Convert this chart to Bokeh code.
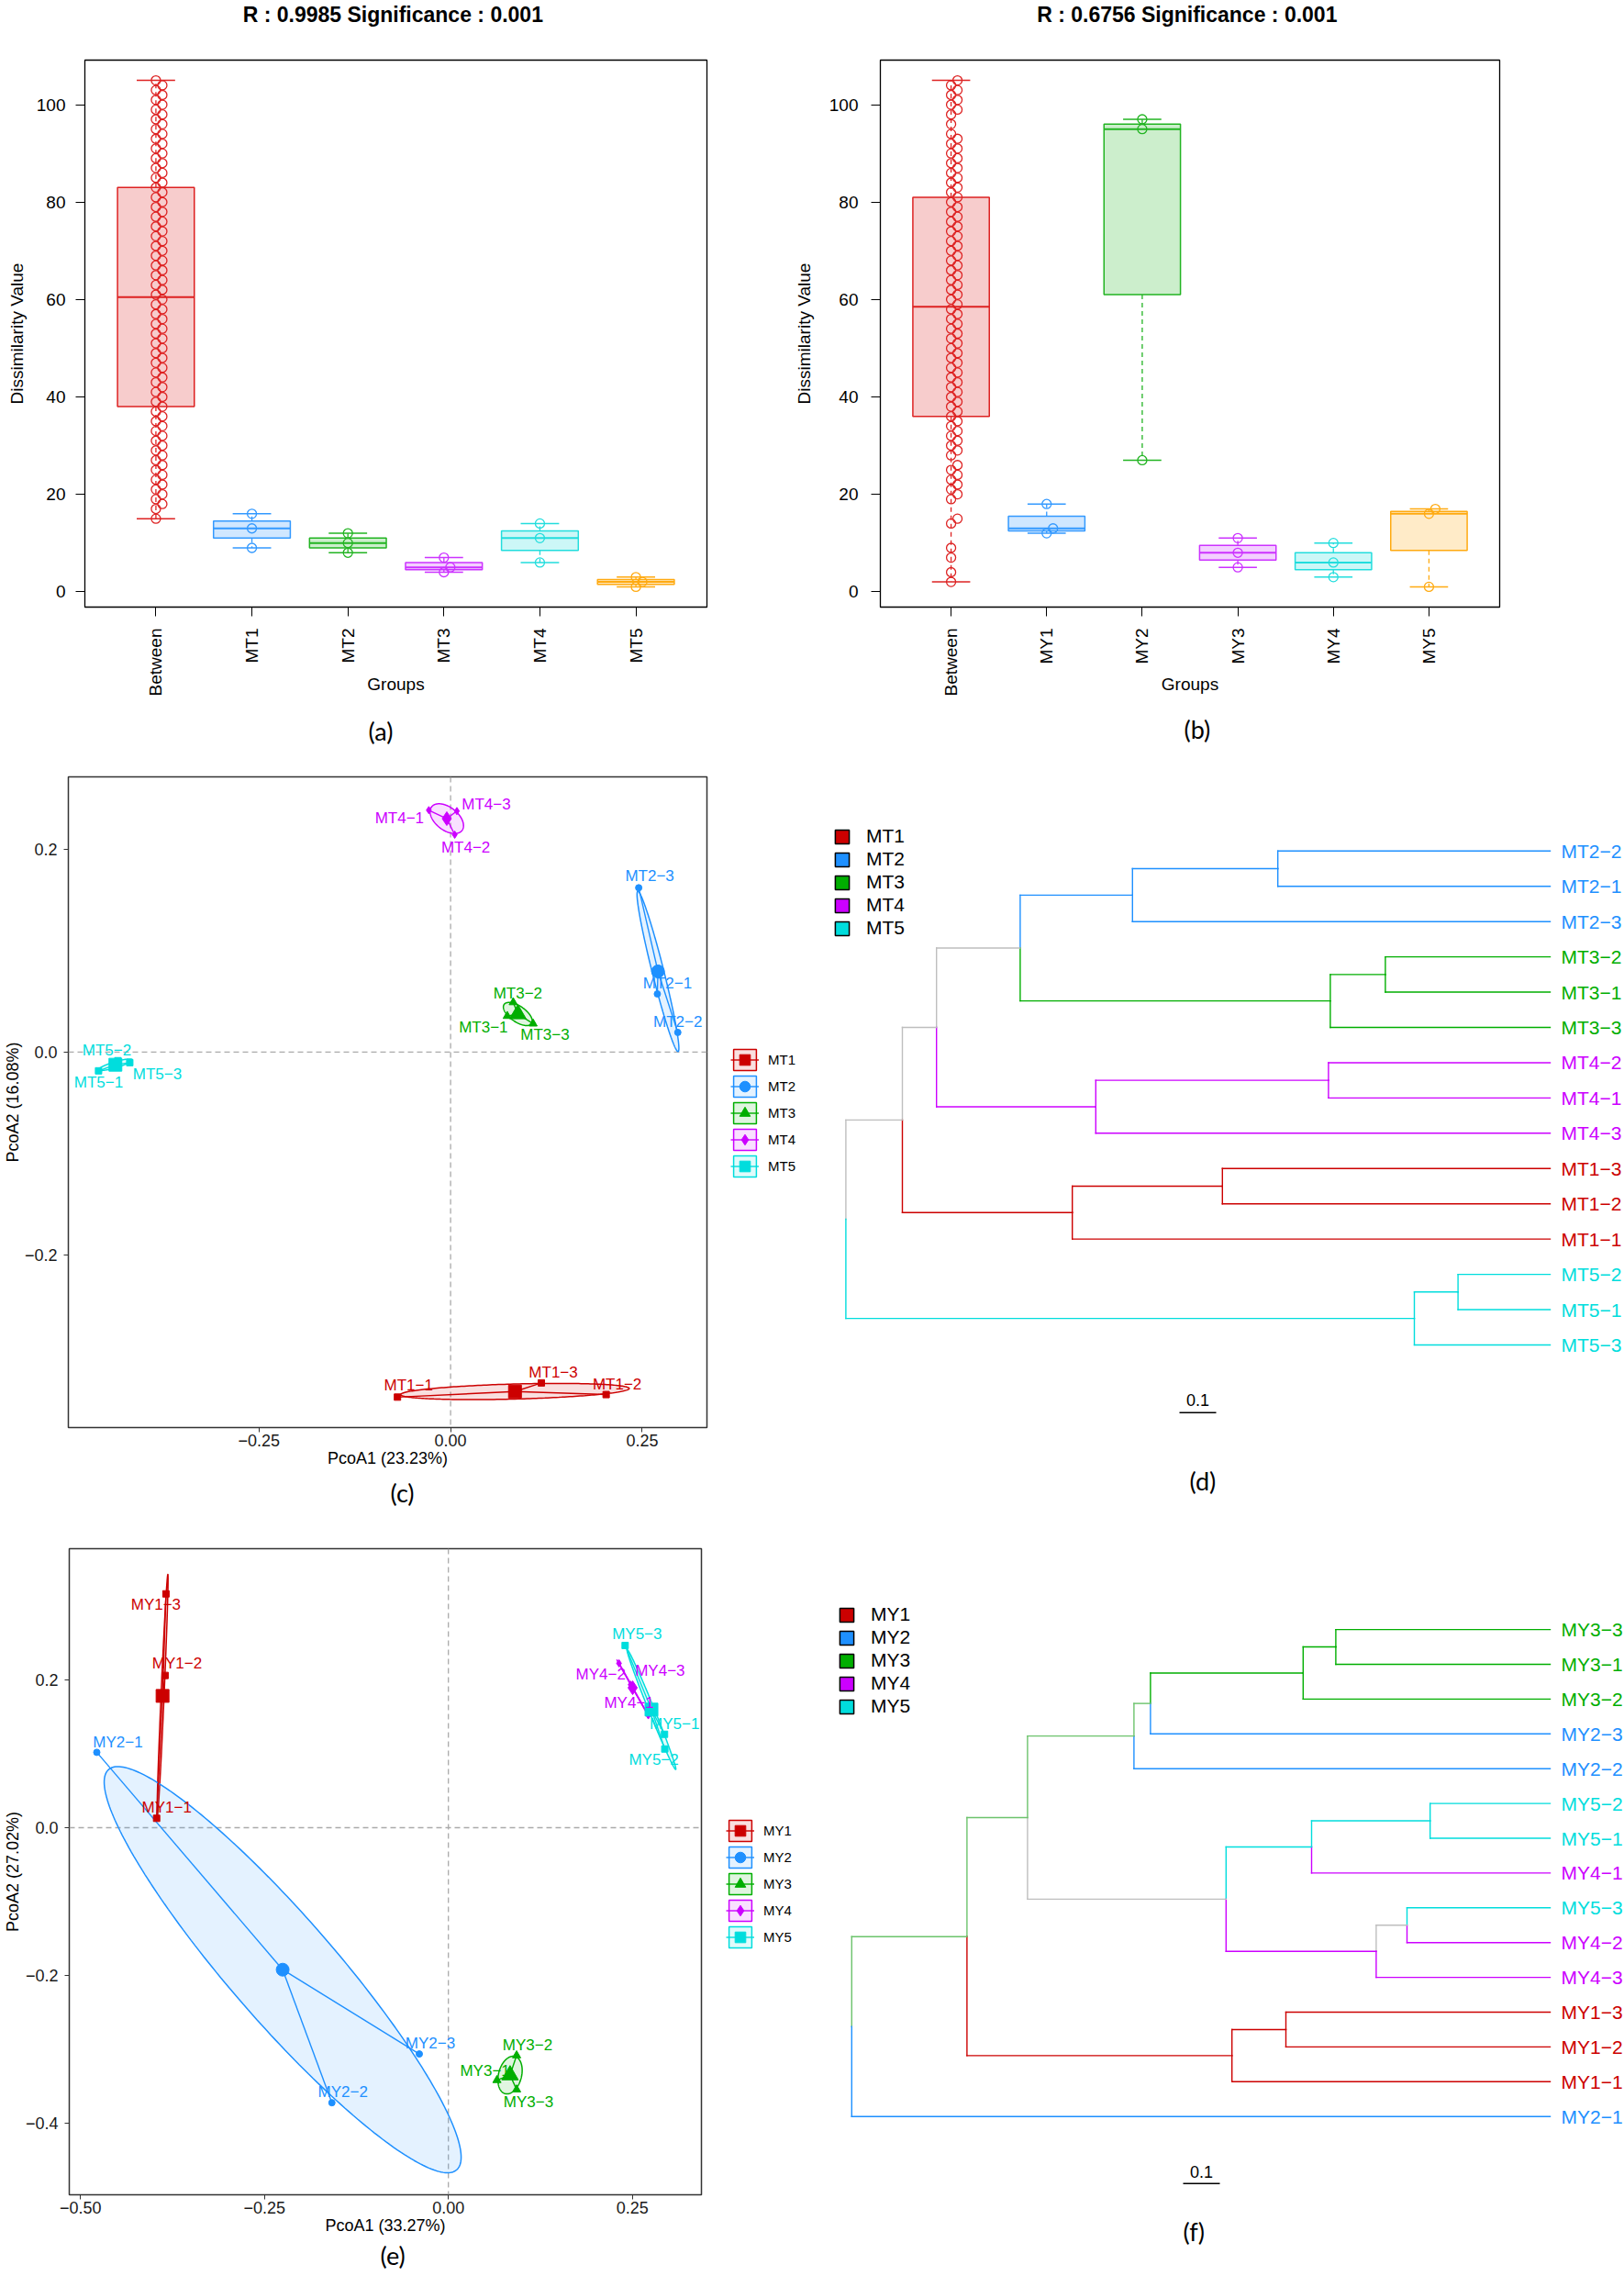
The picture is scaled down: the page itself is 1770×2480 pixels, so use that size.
import numpy as np
from bokeh.plotting import figure
from bokeh.models import (Range1d, FixedTicker, Span, Legend, LegendItem, Title,
                          CustomJSTickFormatter, ColumnDataSource)
from bokeh.layouts import row, column
from bokeh.embed import file_html
from bokeh.resources import INLINE
from bokeh.core.properties import value

FONT = "Liberation Sans"
CAPFONT = "Lato"
CAPSIZE = 27

# ---------------- Panel (a): ANOSIM ranks, MT ----------------
a_title = "R : 0.9985  Significance : 0.001"
a_groups = ["Between", "MT1", "MT2", "MT3", "MT4", "MT5"]
a_between = [15, 17, 18, 19, 20, 21, 22, 23, 24, 25, 26, 27, 28, 29, 30, 31, 32, 33, 34, 35,
             36, 37, 38, 39, 40, 41, 42, 43, 44, 45, 46, 47, 48, 49, 50, 51, 52, 53, 54, 55,
             56, 57, 58, 59, 60, 61, 62, 63, 64, 65, 66, 67, 68, 69, 70, 71, 72, 73, 74, 75,
             76, 77, 78, 79, 80, 81, 82, 83, 84, 85, 86, 87, 88, 89, 90, 91, 92, 93, 94, 95,
             96, 97, 98, 99, 100, 101, 102, 103, 104, 105]
a_mt1 = [9, 13, 16]
a_mt2 = [8, 10, 12]
a_mt3 = [4, 5, 7]
a_mt4 = [6, 11, 14]
a_mt5 = [1, 2, 3]

# ---------------- Panel (b): ANOSIM ranks, MY ----------------
b_title = "R : 0.6756  Significance : 0.001"
b_groups = ["Between", "MY1", "MY2", "MY3", "MY4", "MY5"]
b_between = [2, 4, 7, 9, 14, 15, 19, 20, 21, 22, 23, 24, 25, 26, 28, 29, 30, 31, 32, 33,
             34, 35, 36, 37, 38, 39, 40, 41, 42, 43, 44, 45, 46, 47, 48, 49, 50, 51, 52, 53,
             54, 55, 56, 57, 58, 59, 60, 61, 62, 63, 64, 65, 66, 67, 68, 69, 70, 71, 72, 73,
             74, 75, 76, 77, 78, 79, 80, 81, 82, 83, 84, 85, 86, 87, 88, 89, 90, 91, 92, 93,
             94, 96, 98, 99, 100, 101, 102, 103, 104, 105]
b_my1 = [12, 13, 18]
b_my2 = [27, 95, 97]
b_my3 = [5, 8, 11]
b_my4 = [3, 6, 10]
b_my5 = [1, 16, 17]

box_colors = ["#DD2222", "#3399FF", "#22B422", "#CC33FF", "#22DDDD", "#FFAA11"]

# ---------------- Panel (c): PCoA MT ----------------
c_groups = ["MT1", "MT2", "MT3", "MT4", "MT5"]
c_samples = [["MT1-1", "MT1-2", "MT1-3"], ["MT2-1", "MT2-2", "MT2-3"], ["MT3-1", "MT3-2", "MT3-3"],
             ["MT4-1", "MT4-2", "MT4-3"], ["MT5-1", "MT5-2", "MT5-3"]]
c_pc1 = [[-0.0693, 0.2029, 0.1184], [0.2697, 0.2964, 0.2454], [0.0739, 0.0817, 0.1076],
         [-0.0284, 0.0054, 0.0082], [-0.4592, -0.4340, -0.4185]]
c_pc2 = [[-0.3400, -0.3375, -0.3260], [0.0573, 0.0194, 0.1619], [0.0355, 0.0490, 0.0280],
         [0.2384, 0.2142, 0.2375], [-0.0185, -0.0085, -0.0104]]
c_xlab = "PcoA1 (23.23%)"
c_ylab = "PcoA2 (16.08%)"

# ---------------- Panel (e): PCoA MY ----------------
e_groups = ["MY1", "MY2", "MY3", "MY4", "MY5"]
e_samples = [["MY1-1", "MY1-2", "MY1-3"], ["MY2-1", "MY2-2", "MY2-3"], ["MY3-1", "MY3-2", "MY3-3"],
             ["MY4-1", "MY4-2", "MY4-3"], ["MY5-1", "MY5-2", "MY5-3"]]
e_pc1 = [[-0.3965, -0.3850, -0.3838], [-0.4778, -0.1583, -0.0395], [0.0660, 0.0927, 0.0927],
         [0.2717, 0.2319, 0.2477], [0.2937, 0.2941, 0.2402]]
e_pc2 = [[0.0127, 0.2062, 0.3167], [0.1021, -0.3725, -0.3065], [-0.3420, -0.3085, -0.3547],
         [0.1522, 0.2226, 0.1937], [0.1265, 0.1066, 0.2468]]
e_xlab = "PcoA1 (33.27%)"
e_ylab = "PcoA2 (27.02%)"

grp_colors = ["#CC0000", "#1E90FF", "#00AE00", "#CC00FF", "#00DDDD"]
grp_markers = ["square", "circle", "triangle", "diamond", "square"]

# ---------------- Panel (d): cluster tree MT ----------------
d_leaves = ["MT2-2", "MT2-1", "MT2-3", "MT3-2", "MT3-1", "MT3-3", "MT4-2", "MT4-1", "MT4-3",
            "MT1-3", "MT1-2", "MT1-1", "MT5-2", "MT5-1", "MT5-3"]
d_merges = [("n1", "MT2-2", "MT2-1", 0.742), ("n2", "n1", "MT2-3", 1.138),
            ("n3", "MT3-2", "MT3-1", 0.449), ("n4", "n3", "MT3-3", 0.599),
            ("n5", "n2", "n4", 1.444), ("n6", "MT4-2", "MT4-1", 0.604),
            ("n7", "n6", "MT4-3", 1.238), ("n8", "n5", "n7", 1.672),
            ("n9", "MT1-3", "MT1-2", 0.893), ("n10", "n9", "MT1-1", 1.302),
            ("n11", "n8", "n10", 1.765), ("n12", "MT5-2", "MT5-1", 0.251),
            ("n13", "n12", "MT5-3", 0.370), ("root", "n11", "n13", 1.919)]

# ---------------- Panel (f): cluster tree MY ----------------
f_leaves = ["MY3-3", "MY3-1", "MY3-2", "MY2-3", "MY2-2", "MY5-2", "MY5-1", "MY4-1", "MY5-3",
            "MY4-2", "MY4-3", "MY1-3", "MY1-2", "MY1-1", "MY2-1"]
f_merges = [("m1", "MY3-3", "MY3-1", 0.584), ("m2", "m1", "MY3-2", 0.673),
            ("E", "m2", "MY2-3", 1.089), ("C", "E", "MY2-2", 1.134),
            ("m5", "MY5-2", "MY5-1", 0.327), ("F", "m5", "MY4-1", 0.650),
            ("H", "MY5-3", "MY4-2", 0.390), ("G", "H", "MY4-3", 0.474),
            ("D", "F", "G", 0.883), ("B", "C", "D", 1.424),
            ("m9", "MY1-3", "MY1-2", 0.720), ("m10", "m9", "MY1-1", 0.867),
            ("A", "B", "m10", 1.589), ("root", "A", "MY2-1", 1.903)]

GRAY = "#BEBEBE"
PALEGREEN = "#6CC36C"
MINUS = "\u2212"


def add_title(p, text, side, standoff, size, font=CAPFONT, bold=False, align="center", offset=0):
    p.add_layout(Title(text=text, align=align, offset=offset, standoff=standoff,
                       text_font=font, text_font_size=f"{size}px",
                       text_font_style="bold" if bold else "normal", text_color="black"), side)


def fivenum(v):
    x = np.sort(np.asarray(v, float))
    n = len(x)
    n4 = np.floor((n + 3) / 2) / 2
    d = np.array([1, n4, (n + 1) / 2, n + 1 - n4, n]) - 1
    return 0.5 * (x[np.floor(d).astype(int)] + x[np.ceil(d).astype(int)])


def stack_offsets(vals, step):
    v = sorted(vals)
    offs, prev, prev_off = [], None, 0.0
    for x in v:
        o = step if (prev is not None and x - prev == 1 and prev_off == 0) else 0.0
        offs.append(o)
        prev, prev_off = x, o
    return v, offs


def box_panel(title, groups, series, fig_w, fig_h, bl, br, bt, bb, ylab_standoff, ystand,
              cap, cap_offset, cap_standoff):
    allv = np.concatenate([np.asarray(s, float) for s in series])
    lo, hi = allv.min(), allv.max()
    ext = 0.04 * (hi - lo)
    n = len(groups)
    p = figure(width=fig_w, height=fig_h,
               x_range=Range1d(0.5 - 0.04 * n, n + 0.5 + 0.04 * n),
               y_range=Range1d(lo - ext, hi + ext),
               output_backend="svg", toolbar_location=None, title_location=None,
               min_border_left=bl, min_border_right=br, min_border_top=bt, min_border_bottom=bb)
    p.xgrid.visible = False
    p.ygrid.visible = False
    p.outline_line_color = "black"
    p.outline_line_width = 1.3
    p.xaxis.ticker = FixedTicker(ticks=list(range(1, n + 1)))
    p.xaxis.major_label_overrides = {i + 1: g for i, g in enumerate(groups)}
    p.xaxis.major_label_orientation = np.pi / 2
    p.yaxis.ticker = FixedTicker(ticks=[0, 20, 40, 60, 80, 100])
    for ax in (p.xaxis[0], p.yaxis[0]):
        ax.major_tick_out = 10
        ax.major_tick_in = 0
        ax.minor_tick_line_color = None
        ax.axis_line_color = "black"
        ax.major_tick_line_color = "black"
        ax.major_label_text_font = FONT
        ax.major_label_text_font_size = "19px"
        ax.major_label_text_color = "black"
        ax.axis_label_text_font = FONT
        ax.axis_label_text_font_size = "19px"
        ax.axis_label_text_font_style = "normal"
        ax.axis_label_text_color = "black"
    p.xaxis.major_label_standoff = 13
    p.yaxis.major_label_standoff = ystand
    p.xaxis.axis_label = "Groups"
    p.xaxis.axis_label_standoff = -26
    p.yaxis.axis_label = "Dissimilarity Value"
    p.yaxis.axis_label_standoff = ylab_standoff

    for i, (vals, col) in enumerate(zip(series, box_colors)):
        xc = i + 1
        q = fivenum(vals)
        iqr = q[3] - q[1]
        v = np.asarray(vals, float)
        wlo = v[v >= q[1] - 1.5 * iqr].min()
        whi = v[v <= q[3] + 1.5 * iqr].max()
        p.segment(x0=[xc, xc], y0=[q[3], q[1]], x1=[xc, xc], y1=[whi, wlo],
                  line_color=col, line_width=1.3, line_dash="5 4")
        p.segment(x0=[xc - 0.2] * 2, x1=[xc + 0.2] * 2, y0=[whi, wlo], y1=[whi, wlo],
                  line_color=col, line_width=1.5)
        p.quad(left=[xc - 0.4], right=[xc + 0.4], bottom=[q[1]], top=[q[3]],
               fill_color=col, fill_alpha=0.23, line_color=col, line_width=1.5)
        p.segment(x0=[xc - 0.4], x1=[xc + 0.4], y0=[q[2]], y1=[q[2]],
                  line_color=col, line_width=2)
        sv, offs = stack_offsets(vals, 0.067)
        p.scatter(x=[xc + o for o in offs], y=sv, marker="circle", size=10,
                  fill_color=None, line_color=col, line_width=1.3)

    # spacer next to the frame, then the bold title on top
    add_title(p, " ", "above", 34, 1, font=FONT)
    add_title(p, title, "above", 0, 23, font=FONT, bold=True)
    add_title(p, cap, "below", cap_standoff, CAPSIZE, align="left", offset=cap_offset)
    return p


def fmt(d):
    return CustomJSTickFormatter(code="return (tick < 0 ? '\\u2212' : '') + Math.abs(tick).toFixed(%d);" % d)


def pcoa_panel(groups, samples, pc1, pc2, offs, fig_w, fig_h, bl, br, bt, bb, xr, yr,
               xticks, yticks, xd, yd, xlab, ylab, ylab_standoff, cap, cap_offset, cap_standoff,
               big_sizes, small_sizes):
    p = figure(width=fig_w, height=fig_h, x_range=Range1d(*xr), y_range=Range1d(*yr),
               output_backend="svg", toolbar_location=None, title_location=None,
               min_border_left=bl, min_border_right=br, min_border_top=bt, min_border_bottom=bb)
    p.xgrid.visible = False
    p.ygrid.visible = False
    p.outline_line_color = "#333333"
    p.outline_line_width = 1.5
    p.xaxis.ticker = FixedTicker(ticks=xticks)
    p.yaxis.ticker = FixedTicker(ticks=yticks)
    p.xaxis.formatter = fmt(xd)
    p.yaxis.formatter = fmt(yd)
    for ax in (p.xaxis[0], p.yaxis[0]):
        ax.major_tick_out = 5
        ax.major_tick_in = 0
        ax.minor_tick_line_color = None
        ax.axis_line_color = None
        ax.major_tick_line_color = "#333333"
        ax.major_label_text_font = FONT
        ax.major_label_text_font_size = "18px"
        ax.major_label_text_color = "#1a1a1a"
        ax.axis_label_text_font = FONT
        ax.axis_label_text_font_size = "18px"
        ax.axis_label_text_font_style = "normal"
        ax.axis_label_text_color = "black"
    p.xaxis.major_label_standoff = 2
    p.yaxis.major_label_standoff = 7
    p.xaxis.axis_label = xlab
    p.xaxis.axis_label_standoff = 0
    p.yaxis.axis_label = ylab
    p.yaxis.axis_label_standoff = ylab_standoff
    for dim in ("height", "width"):
        p.add_layout(Span(location=0, dimension=dim, line_color="#AAAAAA", line_dash="6 4",
                          line_width=1.3, level="underlay"))

    K = 1.07
    t = np.linspace(0, 2 * np.pi, 240)
    circ = np.vstack([np.cos(t), np.sin(t)])
    for gi, g in enumerate(groups):
        pts = np.vstack([pc1[gi], pc2[gi]])
        m = pts.mean(axis=1)
        S = np.cov(pts)
        vals, vecs = np.linalg.eigh(S)
        ell = m[:, None] + K * vecs @ (np.sqrt(np.maximum(vals, 0))[:, None] * circ)
        col = grp_colors[gi]
        p.patch(ell[0], ell[1], fill_color=col, fill_alpha=0.12, line_color=col, line_width=1.5)
    for gi, g in enumerate(groups):
        m = [np.mean(pc1[gi]), np.mean(pc2[gi])]
        p.segment(x0=[m[0]] * 3, y0=[m[1]] * 3, x1=pc1[gi], y1=pc2[gi],
                  line_color=grp_colors[gi], line_width=1.4)
    for gi, g in enumerate(groups):
        m = [np.mean(pc1[gi]), np.mean(pc2[gi])]
        col = grp_colors[gi]
        mk = grp_markers[gi]
        p.scatter(x=pc1[gi], y=pc2[gi], marker=mk, size=small_sizes[gi], color=col)
        p.scatter(x=[m[0]], y=[m[1]], marker=mk, size=big_sizes[gi], color=col)
    for gi, g in enumerate(groups):
        src = ColumnDataSource(dict(x=pc1[gi], y=pc2[gi],
                                    t=[s.replace("-", MINUS) for s in samples[gi]],
                                    dx=[o[0] for o in offs[gi]], dy=[o[1] for o in offs[gi]]))
        p.text(x="x", y="y", text="t", x_offset="dx", y_offset="dy", source=src,
               text_align="center", text_baseline="middle", text_color=grp_colors[gi],
               text_font=value(FONT), text_font_size="17px")
    add_title(p, cap, "below", cap_standoff, CAPSIZE, align="left", offset=cap_offset)
    return p


def dendro_panel(leaves, merges, groups, mixed, fig_w, fig_h, bt, bb, leaf_fx, y0, pitch,
                 leg_xy, sbar, cap, cap_offset, cap_standoff, pcoa_leg_xy):
    PPU = 400.0
    fh = fig_h - bt - bb
    p = figure(width=fig_w, height=fig_h,
               x_range=Range1d(leaf_fx / PPU, -(fig_w - leaf_fx) / PPU),
               y_range=Range1d((fh - y0) / pitch, -y0 / pitch),
               output_backend="svg", toolbar_location=None, title_location=None,
               min_border_left=0, min_border_right=0, min_border_top=bt, min_border_bottom=bb,
               x_axis_type=None, y_axis_type=None)
    p.outline_line_color = None
    gcol = {g: grp_colors[i] for i, g in enumerate(groups)}
    height = {l: 0.0 for l in leaves}
    ypos = {l: float(i) for i, l in enumerate(leaves)}
    members = {l: [l] for l in leaves}
    children = {}
    for name, a, b, h in merges:
        height[name] = h
        ypos[name] = (ypos[a] + ypos[b]) / 2
        members[name] = members[a] + members[b]
        children[name] = (a, b)

    def color_of(node):
        gs = {m.split("-")[0] for m in members[node]}
        if len(gs) == 1:
            return gcol[gs.pop()]
        return mixed.get(node, GRAY)

    X0, Y0, X1, Y1, C = [], [], [], [], []
    for name, (a, b) in children.items():
        for c in (a, b):
            cc = color_of(c)
            X0 += [height[name], height[name]]
            Y0 += [ypos[name], ypos[c]]
            X1 += [height[name], height[c]]
            Y1 += [ypos[c], ypos[c]]
            C += [cc, cc]
    p.segment(x0="x0", y0="y0", x1="x1", y1="y1", line_color="c", line_width=1.4,
              line_cap="square", source=ColumnDataSource(dict(x0=X0, y0=Y0, x1=X1, y1=Y1, c=C)))
    lsrc = ColumnDataSource(dict(x=[0.0] * len(leaves), y=list(range(len(leaves))),
                                 t=[l.replace("-", MINUS) for l in leaves],
                                 c=[gcol[l.split("-")[0]] for l in leaves]))
    p.text(x="x", y="y", text="t", text_color="c", source=lsrc, x_offset=12,
           text_align="left", text_baseline="middle", text_font=value(FONT), text_font_size="21px")

    # scale bar
    p.segment(x0=[sbar[0]], x1=[sbar[1]], y0=[sbar[2]], y1=[sbar[2]], line_color="black", line_width=1.5)
    p.text(x=[(sbar[0] + sbar[1]) / 2], y=[sbar[3]], text=["0.1"], text_align="center",
           text_baseline="middle", text_font=value(FONT), text_font_size="18px", text_color="black")

    # group colour key of the tree
    items = []
    for g in groups:
        r = p.quad(left=[np.nan], right=[np.nan], top=[np.nan], bottom=[np.nan],
                   fill_color=gcol[g], line_color="black", line_width=1.5)
        items.append(LegendItem(label=g, renderers=[r]))
    leg = Legend(items=items, location=leg_xy, orientation="vertical", glyph_width=19,
                 glyph_height=19, label_height=19, spacing=1, padding=0, margin=0, label_standoff=17,
                 label_text_font=FONT, label_text_font_size="21px", label_text_color="black",
                 border_line_color=None, background_fill_alpha=0)
    p.add_layout(leg)

    # key of the neighbouring PCoA panel (ellipse + spider line + centroid marker)
    pitems = []
    for gi, g in enumerate(groups):
        col = grp_colors[gi]
        r1 = p.patch([np.nan], [np.nan], fill_color=col, fill_alpha=0.12, line_color=col, line_width=1.5)
        r2 = p.segment(x0=[np.nan], y0=[np.nan], x1=[np.nan], y1=[np.nan], line_color=col, line_width=1.4)
        r3 = p.scatter(x=[np.nan], y=[np.nan], marker=grp_markers[gi], size=12, color=col)
        pitems.append(LegendItem(label=g, renderers=[r1, r2, r3]))
    pleg = Legend(items=pitems, location=pcoa_leg_xy, orientation="vertical", glyph_width=31,
                  glyph_height=29, spacing=-2, padding=2, margin=0, label_standoff=10,
                  label_text_font=FONT, label_text_font_size="15px", label_text_color="black",
                  border_line_color=None, background_fill_alpha=0)
    p.add_layout(pleg)
    add_title(p, cap, "below", cap_standoff, CAPSIZE, align="left", offset=cap_offset)
    return p


pa = box_panel(a_title, a_groups, [a_between, a_mt1, a_mt2, a_mt3, a_mt4, a_mt5],
               860, 830, 92, 90, 58, 167, 8, 11, "(a)", 309, 36)
pb = box_panel(b_title, b_groups, [b_between, b_my1, b_my2, b_my3, b_my4, b_my5],
               910, 830, 99, 136, 58, 167, 14, 14, "(b)", 331, 32)

c_offs = [[(12, -12.5), (12, -11.5), (13, -11)], [(11, -11.5), (0, -11.5), (12, -12.5)],
          [(-26, 12), (5, -10), (13, 12.5)], [(-32, 9), (12, 14), (32, -7)],
          [(0, 12.5), (-12, -11.5), (30, 12.5)]]
e_offs = [[(11, -12), (13, -13), (-11, 12)], [(23, -11), (12, -12), (12, -12)],
          [(-13, -10), (12, -11), (13, 14)], [(-21, -14), (-20, 12), (32, -15)],
          [(11, -11), (-12, 12), (13, -12)]]

pc = pcoa_panel(c_groups, c_samples, c_pc1, c_pc2, c_offs, 790, 842, 72, 20, 16, 117,
                (-0.4986, 0.3344), (-0.370, 0.2712), [-0.25, 0.0, 0.25], [-0.2, 0.0, 0.2], 2, 1,
                c_xlab, c_ylab, 0, "(c)", 351, 12,
                [14, 14, 18, 15, 14], [7, 7, 9, 8, 7])
pe = pcoa_panel(e_groups, e_samples, e_pc1, e_pc2, e_offs, 790, 808, 74, 26, 15, 89,
                (-0.5152, 0.3439), (-0.4972, 0.3779), [-0.5, -0.25, 0.0, 0.25], [-0.4, -0.2, 0.0, 0.2], 2, 1,
                e_xlab, e_ylab, 1, "(e)", 339, 2,
                [14, 14, 18, 15, 14], [7, 7, 9, 8, 7])

pd_ = dendro_panel(d_leaves, d_merges, c_groups, {}, 980, 842, 16, 117, 899, 80.8, 38.44,
                   (118, 532), (1.01, 0.91, 15.92, 15.57), "(d)", 506, 78, (6, 270))
pf = dendro_panel(f_leaves, f_merges, e_groups,
                  {"E": PALEGREEN, "C": PALEGREEN, "B": PALEGREEN, "A": PALEGREEN,
                   "F": grp_colors[4], "G": grp_colors[3]},
                  980, 808, 15, 89, 899, 88.1, 37.9,
                  (123, 520), (1.0, 0.9, 15.93, 15.59), "(f)", 499, 42, (1, 266))

layout = column(row(pa, pb), row(pc, pd_), row(pe, pf))
open("out.html", "w").write(file_html(layout, INLINE))
